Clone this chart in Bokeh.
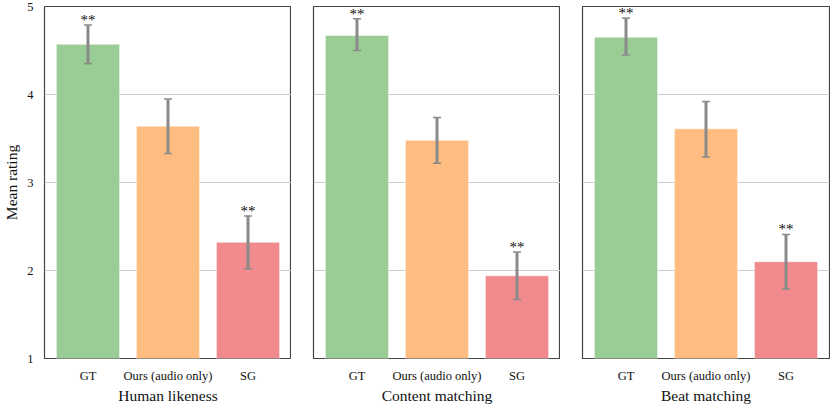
from bokeh.plotting import figure
from bokeh.layouts import row
from bokeh.models import ColumnDataSource, FactorRange, Range1d, Whisker, TeeHead, FixedTicker
from bokeh.core.properties import value
from bokeh.embed import file_html
from bokeh.resources import INLINE

methods = ["GT", "Ours (audio only)", "SG"]
colors = ["#99cd95", "#febc80", "#f08a8d"]
panels = ["Human likeness", "Content matching", "Beat matching"]

hl_mean = [4.57, 3.64, 2.32]
hl_low = [4.35, 3.33, 2.02]
hl_high = [4.79, 3.95, 2.62]
hl_sig = ["**", "", "**"]

cm_mean = [4.67, 3.48, 1.94]
cm_low = [4.50, 3.22, 1.67]
cm_high = [4.86, 3.74, 2.21]
cm_sig = ["**", "", "**"]

bm_mean = [4.65, 3.61, 2.10]
bm_low = [4.45, 3.29, 1.79]
bm_high = [4.87, 3.92, 2.41]
bm_sig = ["**", "", "**"]

y_ticks = [1, 2, 3, 4, 5]

FONT = "'Liberation Serif', serif"
data = [
    (hl_mean, hl_low, hl_high, hl_sig),
    (cm_mean, cm_low, cm_high, cm_sig),
    (bm_mean, bm_low, bm_high, bm_sig),
]

figs = []
for i, (title, (mean, low, high, sig)) in enumerate(zip(panels, data)):
    p = figure(
        x_range=FactorRange(*methods, range_padding=0.029),
        y_range=Range1d(1, 5),
        frame_width=247, frame_height=352,
        output_backend="svg", toolbar_location=None,
        min_border_left=(0 if i == 0 else 22), min_border_right=(1 if i == 2 else 0),
        min_border_top=6, min_border_bottom=0,
    )
    src = ColumnDataSource(dict(x=methods, top=mean, low=low, high=high,
                                color=colors, sig=sig))
    p.vbar(x="x", top="top", bottom=1, width=0.79, fill_color="color",
           line_color="white", line_alpha=0.5, line_width=1, source=src)
    w = Whisker(base="x", lower="low", upper="high", source=src,
                line_color="#8a8a8a", line_width=3, level="overlay",
                upper_head=TeeHead(size=8, line_color="#8a8a8a", line_width=1.5),
                lower_head=TeeHead(size=8, line_color="#8a8a8a", line_width=1.5))
    p.add_layout(w)
    p.text(x="x", y="high", text="sig", source=src, text_align="center",
           text_baseline="alphabetic", y_offset=-5,
           text_font=value(FONT), text_font_size="15px", text_color="#111111")

    p.outline_line_color = "#444444"
    p.outline_line_width = 1.2
    p.xgrid.grid_line_color = None
    p.ygrid.grid_line_color = "#cccccc"
    p.ygrid.grid_line_width = 1
    p.yaxis.ticker = FixedTicker(ticks=y_ticks)

    for ax in (p.xaxis[0], p.yaxis[0]):
        ax.axis_line_color = None
        ax.major_tick_line_color = None
        ax.minor_tick_line_color = None
        ax.major_label_text_font = FONT
        ax.major_label_text_font_size = "12.5px"
        ax.major_label_text_color = "#111111"
        ax.axis_label_text_font = FONT
        ax.axis_label_text_font_style = "normal"
        ax.axis_label_text_font_size = "15.5px"
        ax.axis_label_text_color = "#111111"
    p.xaxis.axis_label = title
    p.xaxis.major_label_standoff = 4
    p.xaxis.axis_label_standoff = 1
    if i == 0:
        p.yaxis.axis_label = "Mean rating"
        p.yaxis.major_label_standoff = 5
        p.yaxis.axis_label_standoff = 4
    else:
        p.yaxis.visible = False
    figs.append(p)

layout = row(*figs, spacing=0)
open("out.html", "w").write(file_html(layout, INLINE))
